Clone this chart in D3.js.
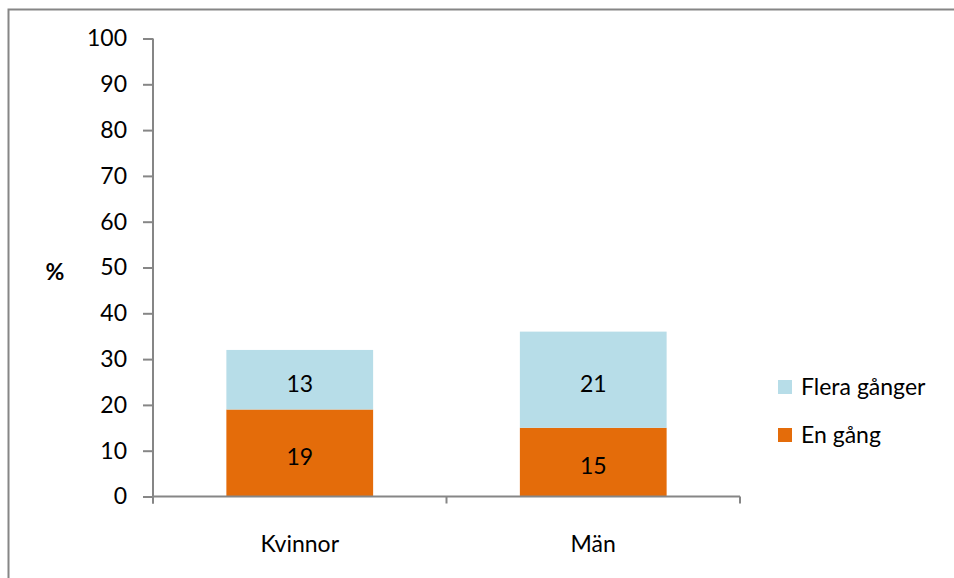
<!DOCTYPE html>
<html>
<head>
<meta charset="utf-8">
<script src="https://cdn.jsdelivr.net/npm/d3@7"></script>
<style>
  html, body { margin: 0; padding: 0; background: #fff; }
  svg text { font-family: Lato, "Open Sans", sans-serif; fill: #000; }
</style>
</head>
<body>
<svg id="chart" width="954" height="578"></svg>
<script>
// Andel som utsatts, i procent
const categories = ["Kvinnor", "Män"];
const seriesNames = ["En gång", "Flera gånger"];
const enGang = [19, 15];
const fleraGanger = [13, 21];
const yTicks = [0, 10, 20, 30, 40, 50, 60, 70, 80, 90, 100];
const colors = ["#E46C0A", "#B7DDE8"];

const svg = d3.select("#chart");
const fontSize = 23;

// Chart frame
svg.append("rect")
  .attr("x", 8.5).attr("y", 9.5)
  .attr("width", 1000).attr("height", 1000)
  .attr("fill", "none").attr("stroke", "#868686").attr("stroke-width", 2);

const plot = { left: 153, right: 740, top: 38.5, bottom: 496.5 };

const x = d3.scaleBand().domain(categories)
  .range([plot.left, plot.right]).paddingInner(0.5).paddingOuter(0.25);
const y = d3.scaleLinear().domain([0, 100]).range([plot.bottom, plot.top]);

const rows = categories.map((c, i) => ({ cat: c, "En gång": enGang[i], "Flera gånger": fleraGanger[i] }));
const stacked = d3.stack().keys(seriesNames)(rows);

// Bars
const layers = svg.append("g").selectAll("g").data(stacked).join("g")
  .attr("fill", (d, i) => colors[i]);
layers.selectAll("rect").data(d => d).join("rect")
  .attr("x", d => x(d.data.cat))
  .attr("width", x.bandwidth())
  .attr("y", d => y(d[1]))
  .attr("height", d => y(d[0]) - y(d[1]));

// Value labels
layers.selectAll("text").data(d => d).join("text")
  .attr("x", d => x(d.data.cat) + x.bandwidth() / 2)
  .attr("y", d => y((d[0] + d[1]) / 2))
  .attr("dy", "0.52em")
  .attr("text-anchor", "middle")
  .style("font-size", fontSize + "px")
  .text(d => d[1] - d[0]);

// Y axis
const yAxis = svg.append("g").attr("transform", `translate(${plot.left},0)`)
  .call(d3.axisLeft(y).tickValues(yTicks).tickSize(10).tickPadding(16));
yAxis.select(".domain").attr("stroke", "#868686").attr("stroke-width", 2)
  .attr("d", `M0,${plot.top}V${plot.bottom + 7}`);
yAxis.selectAll(".tick line").attr("stroke", "#868686").attr("stroke-width", 2);
yAxis.selectAll(".tick text").style("font-size", fontSize + "px").style("font-family", "Lato, sans-serif");

// X axis with category boundary ticks
const xg = svg.append("g");
xg.append("line")
  .attr("x1", plot.left).attr("x2", plot.right)
  .attr("y1", plot.bottom).attr("y2", plot.bottom)
  .attr("stroke", "#868686").attr("stroke-width", 2);
const bounds = d3.range(categories.length + 1).map(i => plot.left + i * (plot.right - plot.left) / categories.length);
xg.selectAll("line.b").data(bounds).join("line").attr("class", "b")
  .attr("x1", d => d).attr("x2", d => d)
  .attr("y1", plot.bottom).attr("y2", plot.bottom + 7)
  .attr("stroke", "#868686").attr("stroke-width", 2);
xg.selectAll("text").data(categories).join("text")
  .attr("x", d => x(d) + x.bandwidth() / 2)
  .attr("y", 552)
  .attr("text-anchor", "middle")
  .style("font-size", fontSize + "px")
  .text(d => d);

// Y axis title
svg.append("text")
  .attr("x", 55).attr("y", 272).attr("dy", "0.36em")
  .attr("text-anchor", "middle")
  .style("font-size", fontSize + "px").style("font-weight", "bold")
  .text("%");

// Legend
const legendItems = [
  { name: "Flera gånger", color: colors[1] },
  { name: "En gång", color: colors[0] }
];
const lg = svg.append("g").selectAll("g").data(legendItems).join("g")
  .attr("transform", (d, i) => `translate(778,${380 + i * 48})`);
lg.append("rect").attr("width", 14).attr("height", 14).attr("fill", d => d.color);
lg.append("text").attr("x", 23).attr("y", 7).attr("dy", "0.36em")
  .style("font-size", fontSize + "px").text(d => d.name);
</script>
</body>
</html>
